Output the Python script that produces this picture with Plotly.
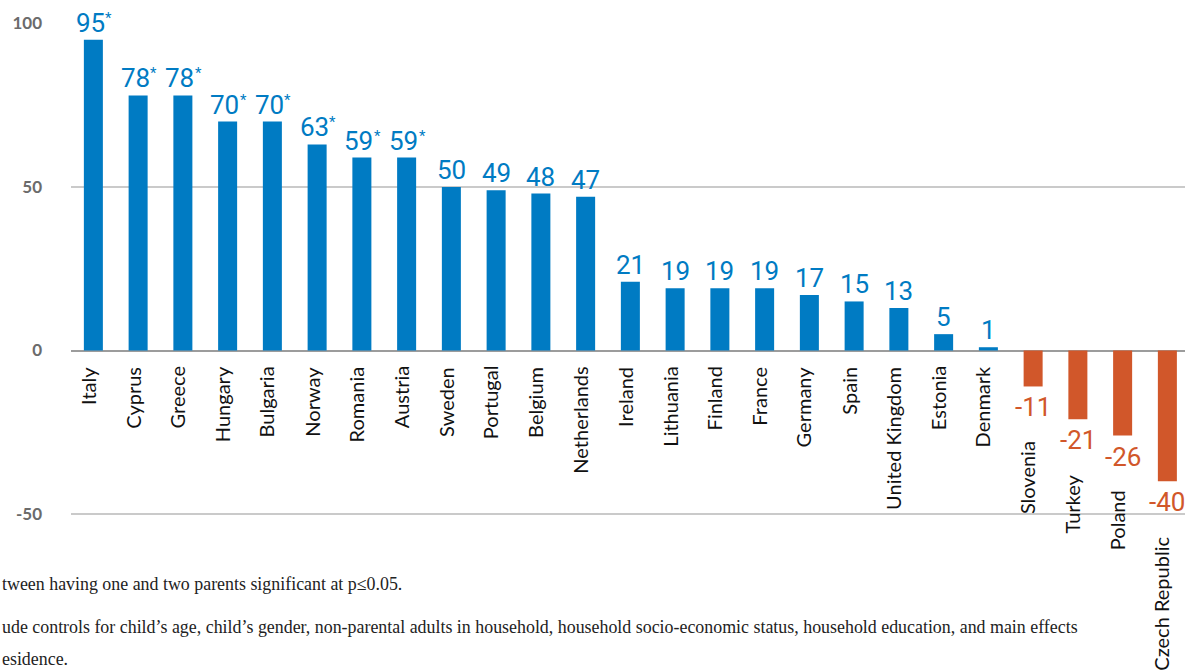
import plotly.graph_objects as go

countries = ["Italy", "Cyprus", "Greece", "Hungary", "Bulgaria", "Norway", "Romania",
             "Austria", "Sweden", "Portugal", "Belgium", "Netherlands", "Ireland",
             "Lithuania", "Finland", "France", "Germany", "Spain", "United Kingdom",
             "Estonia", "Denmark", "Slovenia", "Turkey", "Poland", "Czech Republic"]
values = [95, 78, 78, 70, 70, 63, 59, 59, 50, 49, 48, 47, 21, 19, 19, 19, 17, 15, 13,
          5, 1, -11, -21, -26, -40]
significant = [True] * 8 + [False] * 17

y_ticks = [-50, 0, 50, 100]
grid_values = [50, -50]

footnotes = [
    "tween having one and two parents significant at p≤0.05.",
    "ude controls for child’s age, child’s gender, non-parental adults in household, household socio-economic status, household education, and main effects",
    "esidence.",
]

BLUE = "#007bc3"
ORANGE = "#d1572a"
W, H = 1185, 670
L = 71

colors = [BLUE if v >= 0 else ORANGE for v in values]

fig = go.Figure()
fig.add_trace(go.Bar(x=countries, y=values, marker=dict(color=colors, line=dict(width=0)),
                     width=0.425, hoverinfo="skip"))

annotations = []
value_font = "Noto Sans ExtraCondensed, Noto Sans Condensed, Liberation Sans Narrow, Roboto, sans-serif"
label_font = dict(family="Lato, sans-serif", size=20, color="#111")
for c, v, s in zip(countries, values, significant):
    col = BLUE if v >= 0 else ORANGE
    if v >= 0:
        annotations.append(dict(x=c, y=v, xref="x", yref="y", text=f"{v}", showarrow=False,
                                yanchor="bottom", xanchor="center", yshift=0,
                                xshift=-3 if s else 0,
                                font=dict(family=value_font, size=26, color=col)))
        if s:
            annotations.append(dict(x=c, y=v, xref="x", yref="y", text="*", showarrow=False,
                                    yanchor="bottom", xanchor="left", yshift=11, xshift=10,
                                    font=dict(family="Roboto, sans-serif", size=15, color=col)))
        annotations.append(dict(x=c, y=0, xref="x", yref="y", text=c, showarrow=False,
                                textangle=-90, yanchor="top", xanchor="center",
                                yshift=-14, xshift=-6, font=label_font))
    else:
        annotations.append(dict(x=c, y=v, xref="x", yref="y", text=f"{v}", showarrow=False,
                                yanchor="top", xanchor="center", yshift=-4, xshift=0,
                                font=dict(family=value_font, size=26, color=col)))
        annotations.append(dict(x=c, y=v, xref="x", yref="y", text=c, showarrow=False,
                                textangle=-90, yanchor="top", xanchor="center",
                                yshift=-53, xshift=-6, font=label_font))

foot_y = [584, 627, 659]
for t, py in zip(footnotes, foot_y):
    annotations.append(dict(x=-L / (W - L), y=1 - py / H, xref="paper", yref="paper",
                            text=t, showarrow=False, xanchor="left", yanchor="middle",
                            font=dict(family="Liberation Serif, serif", size=17.9, color="#222")))

shapes = [dict(type="line", xref="paper", yref="y", x0=0, x1=1, y0=g, y1=g,
               line=dict(color="#b9b9b9", width=1.5), layer="below") for g in grid_values]

scale = 3.27
zero_px = 350.5
yr = [-(H - zero_px) / scale, zero_px / scale]
span = (W - L) / 44.75

fig.update_layout(
    width=W, height=H,
    margin=dict(l=L, r=0, t=0, b=0, pad=0),
    paper_bgcolor="white", plot_bgcolor="white",
    showlegend=False,
    annotations=annotations,
    shapes=shapes,
    xaxis=dict(range=[-0.5, span - 0.5], showticklabels=False, showgrid=False,
               zeroline=False, showline=False, ticks="", fixedrange=True),
    yaxis=dict(range=yr, tickvals=y_ticks, ticktext=[str(t) for t in y_ticks],
               showgrid=False, zeroline=True, zerolinecolor="#9c9c9c", zerolinewidth=2,
               showline=False, ticks="", ticklabelstandoff=28,
               tickfont=dict(family="Lato, sans-serif", size=17, color="#6b6b6b", weight="bold"),
               fixedrange=True),
)

fig.write_html("out.html", config={"displayModeBar": False, "staticPlot": True},
               post_script="document.body.style.margin='0px';")
